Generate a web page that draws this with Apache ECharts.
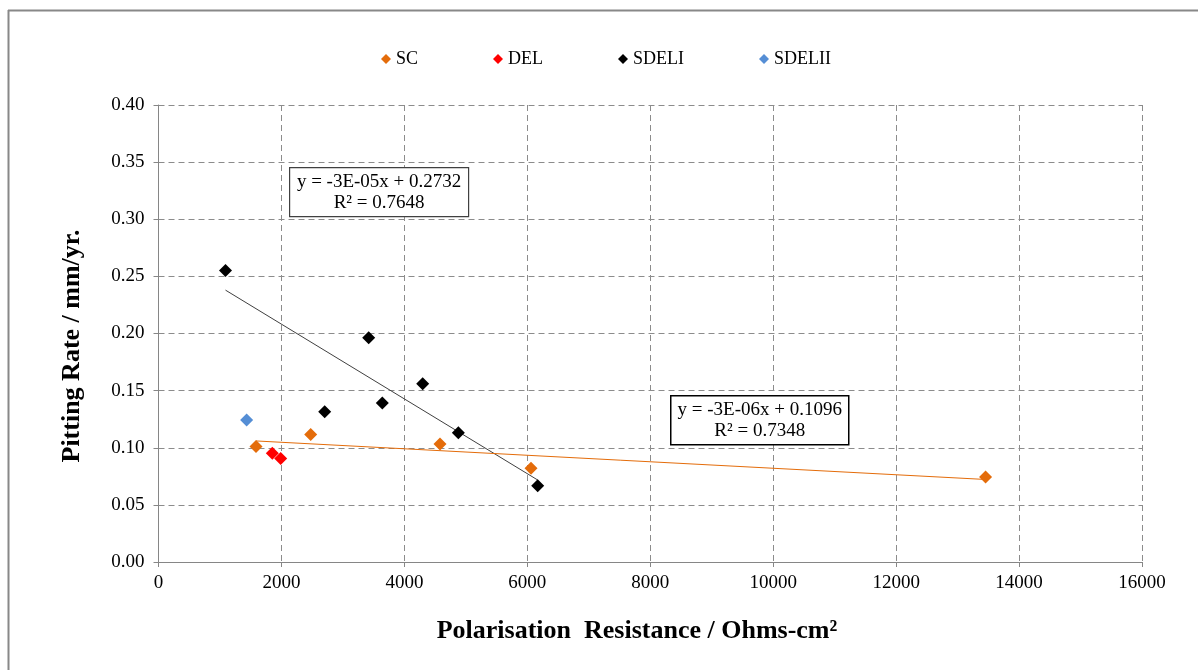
<!DOCTYPE html>
<html><head><meta charset="utf-8">
<script src="https://cdn.jsdelivr.net/npm/echarts@6/dist/echarts.min.js"></script>
<style>html,body{margin:0;padding:0;background:#fff}#c{width:1198px;height:670px}</style>
</head><body><div id="c"></div>
<script>
// ---- data ----
const seriesNames = ['SC', 'DEL', 'SDELI', 'SDELII'];
const scX = [1586, 2476, 4580, 6060, 13455];
const scY = [0.101, 0.1117, 0.1032, 0.0820, 0.0744];
const delX = [1852, 1988];
const delY = [0.0951, 0.0907];
const sdel1X = [1090, 2704, 3419, 3641, 4298, 4878, 6169];
const sdel1Y = [0.2552, 0.1315, 0.1963, 0.1391, 0.1561, 0.1132, 0.0667];
const sdel2X = [1434];
const sdel2Y = [0.1243];
const trendText1 = ['y = -3E-05x + 0.2732', 'R\u00b2 = 0.7648'];
const trendText2 = ['y = -3E-06x + 0.1096', 'R\u00b2 = 0.7348'];

const FONT = "'Liberation Serif','Times New Roman',serif";
const colors = { SC: '#E46C0A', DEL: '#FF0000', SDELI: '#000000', SDELII: '#558ED5' };

function pairs(xs, ys) { return xs.map((x, i) => [x, ys[i]]); }
// least squares trend line (as Excel's linear trendline), drawn across data x-range
function trend(xs, ys) {
  const n = xs.length;
  const mx = xs.reduce((a, b) => a + b, 0) / n;
  const my = ys.reduce((a, b) => a + b, 0) / n;
  let sxy = 0, sxx = 0;
  for (let i = 0; i < n; i++) { sxy += (xs[i] - mx) * (ys[i] - my); sxx += (xs[i] - mx) ** 2; }
  const m = sxy / sxx, b = my - m * mx;
  const x0 = Math.min(...xs), x1 = Math.max(...xs);
  return [[x0, m * x0 + b], [x1, m * x1 + b]];
}

const chart = echarts.init(document.getElementById('c'), null, { renderer: 'canvas' });

function box(left, top, w, h, lines, bw, bc) {
  return {
    type: 'group', left: left, top: top, z: 100,
    children: [
      { type: 'rect', z: 100, shape: { x: 0, y: 0, width: w, height: h }, style: { fill: '#fff', stroke: bc, lineWidth: bw } },
      { type: 'text', z: 101, x: w / 2, y: h / 2, style: { text: lines.join('\n'), font: '19px ' + FONT, fill: '#000', align: 'center', verticalAlign: 'middle', lineHeight: 21 } }
    ]
  };
}

const scatterBase = (name, data) => ({
  name: name, type: 'scatter', data: data, symbol: 'diamond', symbolSize: 13,
  itemStyle: { color: colors[name], opacity: 1 }, z: 5
});

chart.setOption({
  animation: false,
  backgroundColor: '#fff',
  textStyle: { fontFamily: FONT },
  legend: {
    data: seriesNames, top: 45, left: 376, icon: 'diamond', itemWidth: 10, itemHeight: 10,
    itemGap: 75, textStyle: { fontFamily: FONT, fontSize: 18, color: '#000' },
    itemStyle: { opacity: 1 }
  },
  grid: { left: 158.5, right: 56, top: 105, bottom: 108, containLabel: false },
  xAxis: {
    type: 'value', min: 0, max: 16000, interval: 2000,
    axisLine: { show: true, lineStyle: { color: '#868686', width: 1 } },
    axisTick: { show: true, length: 5, lineStyle: { color: '#868686' } },
    axisLabel: { fontFamily: FONT, fontSize: 19, color: '#000', margin: 12, formatter: v => String(v) },
    splitLine: { show: true, lineStyle: { color: '#8c8c8c', type: [6, 4], width: 1 } }
  },
  yAxis: {
    type: 'value', min: 0, max: 0.4, interval: 0.05,
    axisLine: { show: true, lineStyle: { color: '#868686', width: 1 } },
    axisTick: { show: true, length: 5, lineStyle: { color: '#868686' } },
    axisLabel: { fontFamily: FONT, fontSize: 19, color: '#000', margin: 14, formatter: v => v.toFixed(2) },
    splitLine: { show: true, lineStyle: { color: '#8c8c8c', type: [6, 4], width: 1 } }
  },
  graphic: [
    { type: 'line', shape: { x1: 8, y1: 10.5, x2: 1198, y2: 10.5 }, style: { stroke: '#888', lineWidth: 2 } },
    { type: 'line', shape: { x1: 8.5, y1: 10, x2: 8.5, y2: 670 }, style: { stroke: '#888', lineWidth: 2 } },
    { type: 'text', x: 637, y: 631, style: { text: 'Polarisation  Resistance / Ohms-cm\u00b2', font: 'bold 26px ' + FONT, fill: '#000', align: 'center', verticalAlign: 'middle' } },
    { type: 'text', x: 72, y: 346, rotation: Math.PI / 2, style: { text: 'Pitting Rate / mm/yr.', font: 'bold 26px ' + FONT, fill: '#000', align: 'center', verticalAlign: 'middle' } },
    box(289, 167, 179, 49, trendText1, 1.2, '#404040'),
    box(670, 395, 178, 49, trendText2, 1.5, '#000')
  ],
  series: [
    { type: 'line', data: trend(sdel1X, sdel1Y), symbol: 'none', lineStyle: { color: '#404040', width: 1 }, z: 3, silent: true },
    { type: 'line', data: trend(scX, scY), symbol: 'none', lineStyle: { color: '#E46C0A', width: 1 }, z: 3, silent: true },
    scatterBase('SC', pairs(scX, scY)),
    scatterBase('DEL', pairs(delX, delY)),
    scatterBase('SDELI', pairs(sdel1X, sdel1Y)),
    scatterBase('SDELII', pairs(sdel2X, sdel2Y))
  ]
});
</script></body></html>
